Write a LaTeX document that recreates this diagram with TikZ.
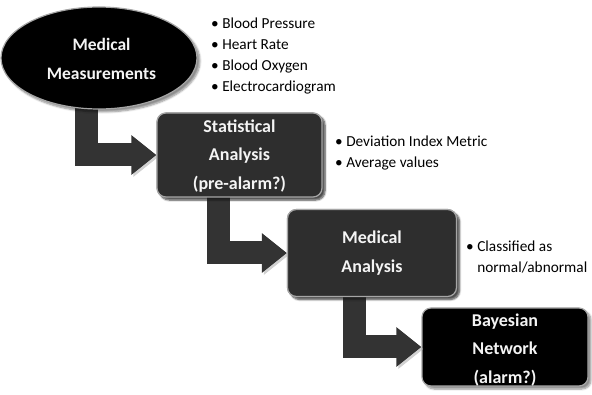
\documentclass[tikz,border=0pt]{standalone}
\usepackage{fontspec}
\setmainfont{Carlito}
\usetikzlibrary{arrows.meta,shadows.blur,calc,shapes.geometric}
\definecolor{boxgray}{HTML}{2E2E2E}
\definecolor{arrowgray}{HTML}{333333}
\definecolor{offwhite}{HTML}{F4F4F4}
\begin{document}
\begin{tikzpicture}[x=1pt,y=-1pt,
  box/.style={draw=gray!70,line width=1.2pt,rounded corners=9pt,fill=boxgray,
     blur shadow={shadow xshift=3pt,shadow yshift=-3pt,shadow blur steps=6,shadow opacity=45}},
  boxtext/.style={text=offwhite,font=\fontsize{18}{28.5}\selectfont\bfseries,align=center},
  bendarrow/.style={draw=arrowgray,line width=23pt,
     -{Triangle[width=38pt,length=25pt]},
     preaction={draw=gray!60,opacity=.6,transform canvas={shift={(2pt,-2pt)}}}},
  bul/.style={anchor=west,inner sep=0pt,font=\fontsize{15.3}{21}\selectfont,align=left}
]
\useasboundingbox (0,0) rectangle (592,395);
\coordinate (a1s) at (86,80);
\coordinate (a2s) at (218,180);
\coordinate (a3s) at (354,280);
\node[box,minimum width=165pt,minimum height=84pt] (stat) at (239.5,155) {};
\node[box,minimum width=169pt,minimum height=87pt] (med) at (372,253) {};
\node[box,fill=black,minimum width=166pt,minimum height=78pt] (bay) at (505,347) {};
\draw[bendarrow] (a1s) |- (stat.west);
\draw[bendarrow] (a2s) |- (med.west);
\draw[bendarrow] (a3s) |- (bay.west);
% redraw boxes over the arrow starts
\node[box,minimum width=165pt,minimum height=84pt] (stat2) at (stat) {};
\node[box,minimum width=169pt,minimum height=87pt] (med2) at (med) {};
\node[boxtext] (statt) at ($(stat)+(0,1)$) {Statistical\\Analysis\\(pre-alarm?)};
\node[boxtext] (medt) at ($(med)+(0,0)$) {Medical\\Analysis};
\node[boxtext] (bayt) at ($(bay)+(0,3)$) {Bayesian\\Network\\(alarm?)};
\node[ellipse,draw=gray!70,line width=1.2pt,fill=black,minimum width=196pt,minimum height=102pt,
  blur shadow={shadow xshift=3pt,shadow yshift=-3pt,shadow blur steps=6,shadow opacity=45}]
  (meas) at (99,58) {};
\node[text=offwhite,font=\fontsize{17.5}{28.5}\selectfont\bfseries,align=center]
  (meast) at (101.5,59) {Medical\\Measurements};
\node[bul] (b1) at (211,56.5) {• Blood Pressure\\• Heart Rate\\• Blood Oxygen\\• Electrocardiogram};
\node[bul] (b2) at (335,153.5) {• Deviation Index Metric\\• Average values};
\node[bul] (b3) at (466,257.5) {• Classified as\\\phantom{• }normal/abnormal};
\end{tikzpicture}
\end{document}
